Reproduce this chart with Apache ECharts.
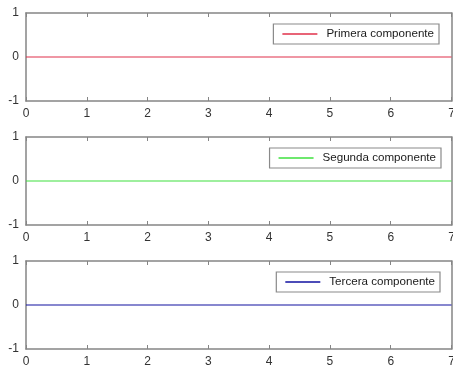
<!DOCTYPE html>
<html>
<head>
<meta charset="utf-8">
<script src="https://cdn.jsdelivr.net/npm/echarts@6/dist/echarts.min.js"></script>
<style>
  html, body { margin: 0; padding: 0; background: #fff; }
  #chart { width: 453px; height: 371px; }
</style>
</head>
<body>
<div id="chart"></div>
<script>
// Sample times and the three signal components
const tiempo = [0, 1, 2, 3, 4, 5, 6, 7];
const primera = [0, 0, 0, 0, 0, 0, 0, 0];
const segunda = [0, 0, 0, 0, 0, 0, 0, 0];
const tercera = [0, 0, 0, 0, 0, 0, 0, 0];
const nombres = ['Primera componente', 'Segunda componente', 'Tercera componente'];
const colores = ['#e0304a', '#3ee03e', '#1010a0'];
const xTicks = [0, 1, 2, 3, 4, 5, 6, 7];
const yTicks = [-1, 0, 1];

const valores = [primera, segunda, tercera];
const font = 'Liberation Sans, Arial, sans-serif';
const axisGray = '#858585';
const tops = [13, 137, 261];
const H = 88;

const grids = [], xAxes = [], yAxes = [], series = [], legends = [];
for (let i = 0; i < 3; i++) {
  grids.push({ left: 26, right: 1.5, top: tops[i], height: H, containLabel: false, outerBoundsMode: 'none' });
  const common = {
    axisLine: { show: true, onZero: false, lineStyle: { color: axisGray, width: 1.5 } },
    axisTick: { show: true, inside: true, length: 4, lineStyle: { color: axisGray } },
    splitLine: { show: false }
  };
  // bottom and top x axes (box)
  xAxes.push(Object.assign({}, common, {
    gridIndex: i, type: 'value', min: xTicks[0], max: xTicks[xTicks.length - 1], interval: 1,
    position: 'bottom',
    axisLabel: { color: '#333', fontFamily: font, fontSize: 12, margin: 7, showMaxLabel: true }
  }));
  xAxes.push(Object.assign({}, common, {
    gridIndex: i, type: 'value', min: 0, max: 7, interval: 1, position: 'top',
    axisLabel: { show: false }
  }));
  // left and right y axes (box)
  yAxes.push(Object.assign({}, common, {
    gridIndex: i, type: 'value', min: yTicks[0], max: yTicks[yTicks.length - 1], interval: 1,
    position: 'left',
    axisTick: { show: false },
    axisLabel: { color: '#333', fontFamily: font, fontSize: 12, margin: 7 }
  }));
  yAxes.push(Object.assign({}, common, {
    gridIndex: i, type: 'value', min: -1, max: 1, interval: 1, position: 'right',
    axisTick: { show: false },
    axisLabel: { show: false }
  }));
  series.push({
    name: nombres[i], type: 'line', xAxisIndex: 2 * i, yAxisIndex: 2 * i,
    data: tiempo.map((t, k) => [t, valores[i][k]]),
    showSymbol: false, symbol: 'none',
    lineStyle: { color: colores[i], width: 1.2 }, itemStyle: { color: colores[i] },
    silent: true, animation: false
  });
}

const legendBoxes = [
  { top: 24, right: 14 },
  { top: 148, right: 12 },
  { top: 272, right: 13 }
];
for (let i = 0; i < 3; i++) {
  legends.push({
    data: [nombres[i]], top: legendBoxes[i].top, right: legendBoxes[i].right,
    orient: 'vertical',
    backgroundColor: '#fff', borderColor: '#8a8a8a', borderWidth: 1.2,
    padding: [4, 5, 4, 9],
    itemWidth: 35, itemHeight: 1.5, itemGap: 4,
    icon: 'rect',
    textStyle: { fontFamily: font, fontSize: 11.6, color: '#1a1a1a', padding: [0, 0, 0, 4] }
  });
}

const chart = echarts.init(document.getElementById('chart'), null, { renderer: 'canvas' });
chart.setOption({
  animation: false,
  backgroundColor: '#fff',
  grid: grids, xAxis: xAxes, yAxis: yAxes, series: series, legend: legends
});
</script>
</body>
</html>
